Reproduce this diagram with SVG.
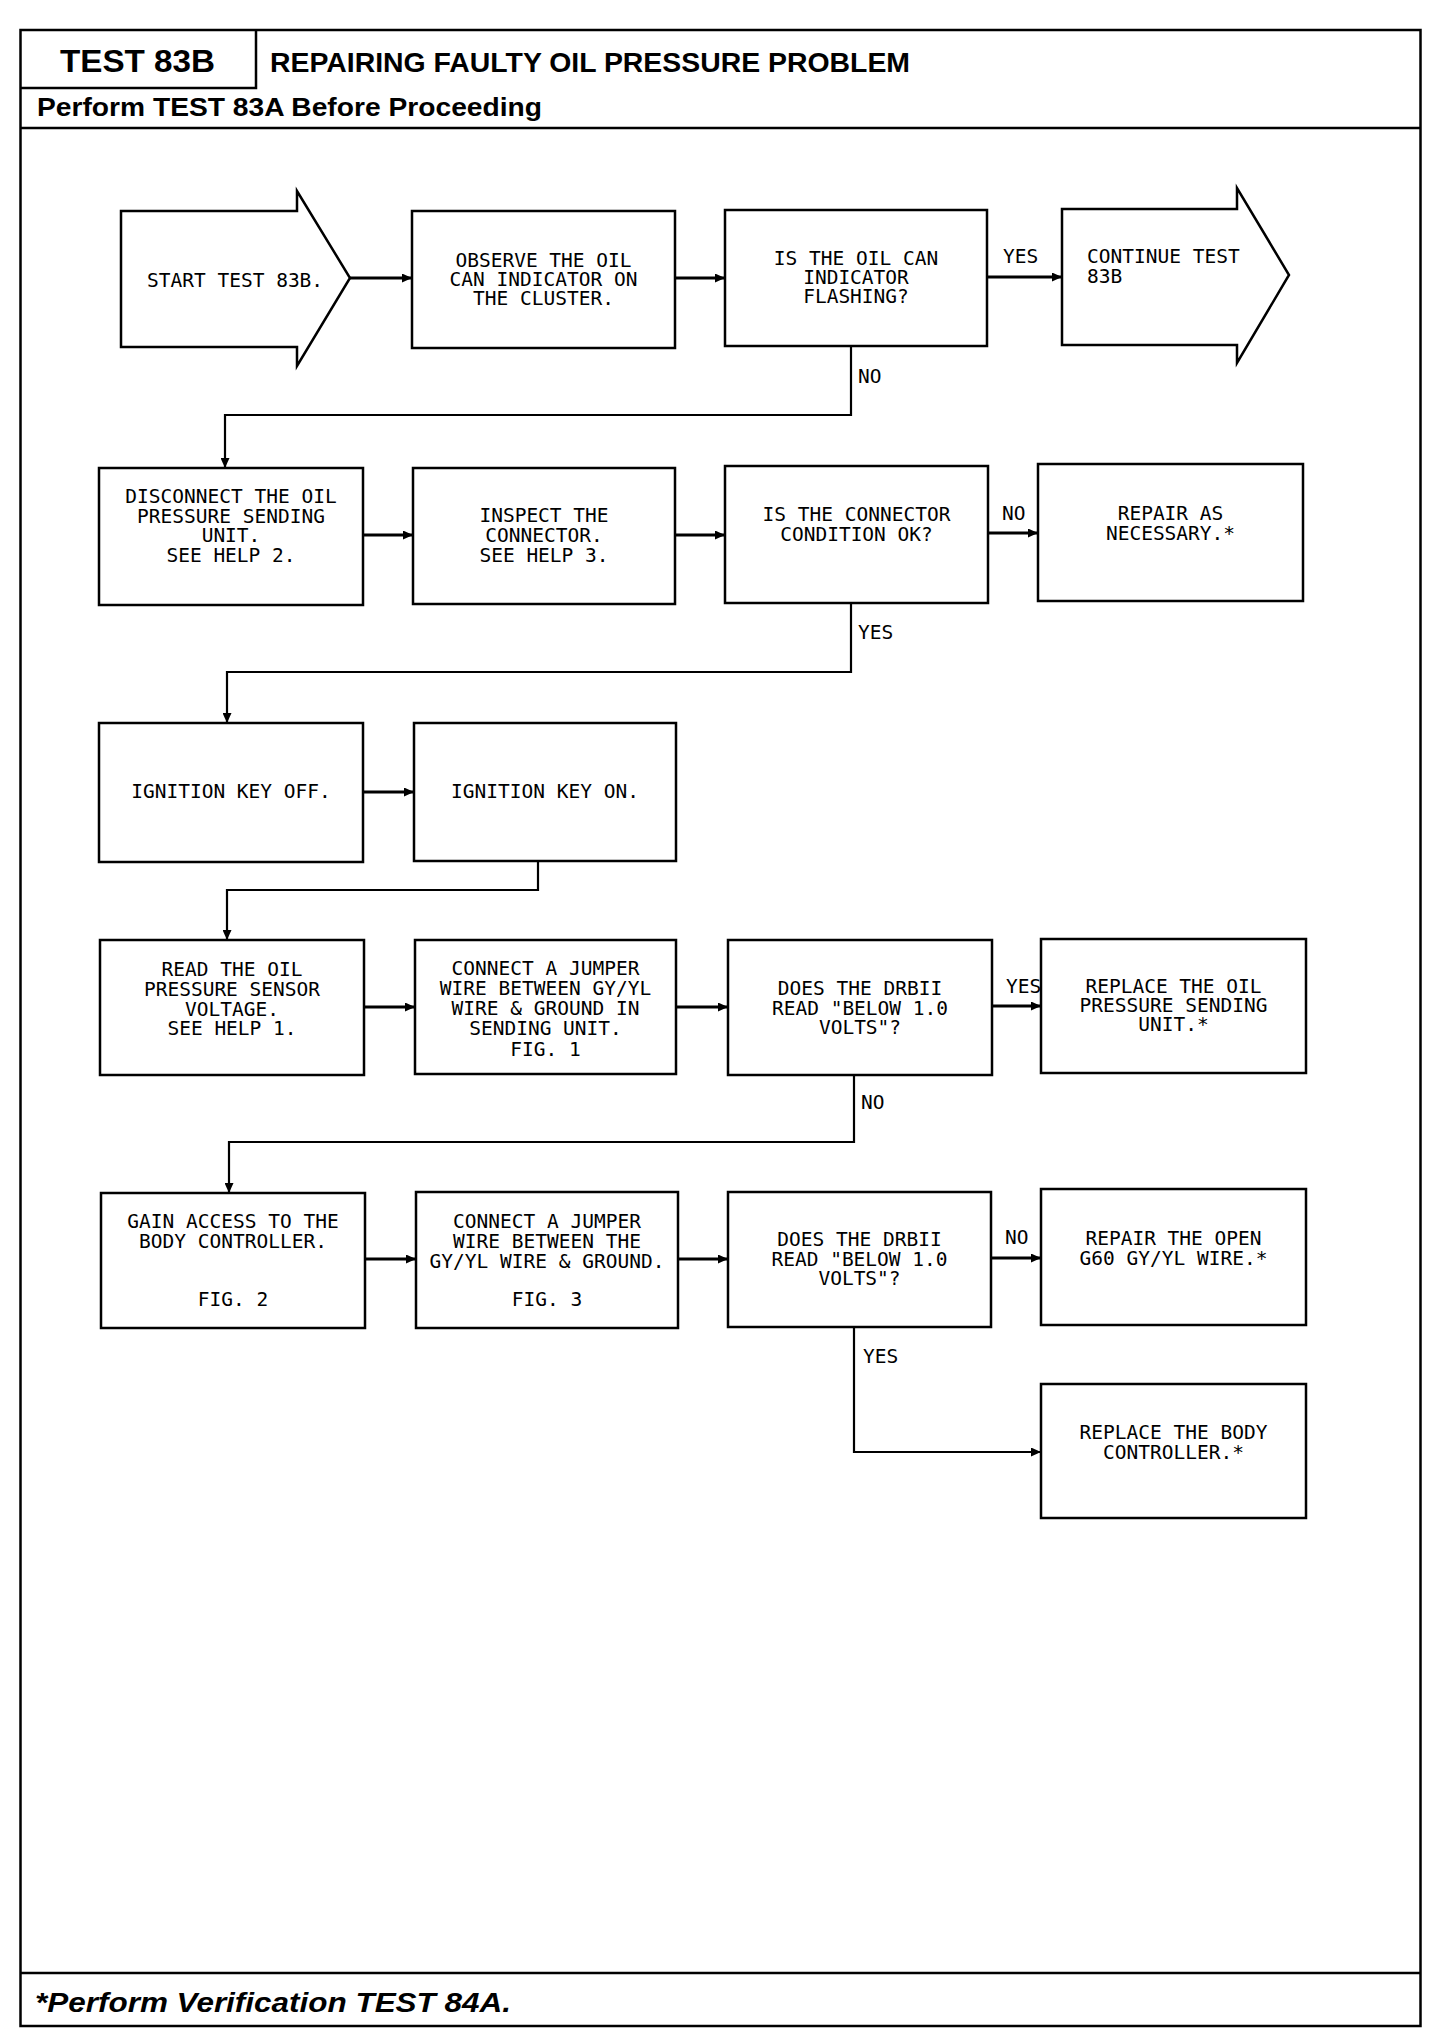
<svg xmlns="http://www.w3.org/2000/svg" width="1456" height="2040" viewBox="0 0 1456 2040">
<style>
.frame{fill:none;stroke:#000;stroke-width:2.5}
.box{fill:#fff;stroke:#000;stroke-width:2.5}
.conn{fill:none;stroke:#000;stroke-width:2.2}
.arr{fill:none;stroke:#000;stroke-width:3}
.t{font-family:"DejaVu Sans Mono","Liberation Mono",monospace;font-size:19.5px;fill:#000}
.c{text-anchor:middle}
.hb{font-family:"Liberation Sans",Arial,sans-serif;font-weight:bold;fill:#000}
</style>
<defs>
<marker id="ah" markerUnits="userSpaceOnUse" markerWidth="11" markerHeight="9" refX="10" refY="4.5" orient="auto">
<path d="M0,0 L10,4.5 L0,9 z" fill="#000"/>
</marker>
</defs>
<rect width="1456" height="2040" fill="#fff"/>
<g id="frame">
<rect class="frame" x="20.5" y="30" width="1400" height="1996"/>
<path class="frame" d="M256,30 V88 H20.5"/>
<line class="frame" x1="20.5" y1="128" x2="1420.5" y2="128"/>
<line class="frame" x1="20.5" y1="1973" x2="1420.5" y2="1973"/>
<text class="hb" x="60" y="72" font-size="31" textLength="155" lengthAdjust="spacingAndGlyphs">TEST 83B</text>
<text class="hb" x="270" y="72" font-size="27" textLength="640" lengthAdjust="spacingAndGlyphs">REPAIRING FAULTY OIL PRESSURE PROBLEM</text>
<text class="hb" x="37" y="116" font-size="26" textLength="505" lengthAdjust="spacingAndGlyphs">Perform TEST 83A Before Proceeding</text>
<text class="hb" x="35" y="2012" font-size="27" font-style="italic" textLength="476" lengthAdjust="spacingAndGlyphs">*Perform Verification TEST 84A.</text>
</g>
<g id="connectors">
<line class="arr" x1="350" y1="278" x2="412" y2="278" marker-end="url(#ah)"/>
<line class="arr" x1="675" y1="278" x2="725" y2="278" marker-end="url(#ah)"/>
<line class="arr" x1="987" y1="277" x2="1062" y2="277" marker-end="url(#ah)"/>
<polyline class="conn" points="851,346 851,415 225,415 225,468" marker-end="url(#ah)"/>
<line class="arr" x1="363" y1="535" x2="413" y2="535" marker-end="url(#ah)"/>
<line class="arr" x1="675" y1="535" x2="725" y2="535" marker-end="url(#ah)"/>
<line class="arr" x1="988" y1="533" x2="1038" y2="533" marker-end="url(#ah)"/>
<polyline class="conn" points="851,603 851,672 227,672 227,723" marker-end="url(#ah)"/>
<line class="arr" x1="363" y1="792" x2="414" y2="792" marker-end="url(#ah)"/>
<polyline class="conn" points="538,861 538,890 227,890 227,940" marker-end="url(#ah)"/>
<line class="arr" x1="364" y1="1007" x2="415" y2="1007" marker-end="url(#ah)"/>
<line class="arr" x1="676" y1="1007" x2="728" y2="1007" marker-end="url(#ah)"/>
<line class="arr" x1="992" y1="1006" x2="1041" y2="1006" marker-end="url(#ah)"/>
<polyline class="conn" points="854,1075 854,1142 229,1142 229,1193" marker-end="url(#ah)"/>
<line class="arr" x1="365" y1="1259" x2="416" y2="1259" marker-end="url(#ah)"/>
<line class="arr" x1="678" y1="1259" x2="728" y2="1259" marker-end="url(#ah)"/>
<line class="arr" x1="991" y1="1258" x2="1041" y2="1258" marker-end="url(#ah)"/>
<polyline class="conn" points="854,1327 854,1452 1041,1452" marker-end="url(#ah)"/>
<text class="t" x="1003" y="263">YES</text>
<text class="t" x="858" y="383">NO</text>
<text class="t" x="1002" y="520">NO</text>
<text class="t" x="858" y="639">YES</text>
<text class="t" x="1006" y="993">YES</text>
<text class="t" x="861" y="1109">NO</text>
<text class="t" x="1005" y="1244">NO</text>
<text class="t" x="863" y="1363">YES</text>
</g>
<g id="start">
<polygon class="box" points="121,211 297,211 297,191 350,278 297,366 297,347 121,347"/>
<text class="t" x="147" y="287">START TEST 83B.</text>
</g>
<g id="observe">
<rect class="box" x="412" y="211" width="263" height="137"/>
<text class="t c" x="543.5" y="267">OBSERVE THE OIL</text>
<text class="t c" x="543.5" y="286">CAN INDICATOR ON</text>
<text class="t c" x="543.5" y="305">THE CLUSTER.</text>
</g>
<g id="q-flashing">
<rect class="box" x="725" y="210" width="262" height="136"/>
<text class="t c" x="856" y="265">IS THE OIL CAN</text>
<text class="t c" x="856" y="284">INDICATOR</text>
<text class="t c" x="856" y="303">FLASHING?</text>
</g>
<g id="continue">
<polygon class="box" points="1062,209 1237,209 1237,188 1289,275 1237,363 1237,345 1062,345"/>
<text class="t" x="1087" y="263">CONTINUE TEST</text>
<text class="t" x="1087" y="283">83B</text>
</g>
<g id="disconnect">
<rect class="box" x="99" y="468" width="264" height="137"/>
<text class="t c" x="231" y="503">DISCONNECT THE OIL</text>
<text class="t c" x="231" y="523">PRESSURE SENDING</text>
<text class="t c" x="231" y="542">UNIT.</text>
<text class="t c" x="231" y="562">SEE HELP 2.</text>
</g>
<g id="inspect">
<rect class="box" x="413" y="468" width="262" height="136"/>
<text class="t c" x="544" y="522">INSPECT THE</text>
<text class="t c" x="544" y="542">CONNECTOR.</text>
<text class="t c" x="544" y="562">SEE HELP 3.</text>
</g>
<g id="q-connector">
<rect class="box" x="725" y="466" width="263" height="137"/>
<text class="t c" x="856.5" y="521">IS THE CONNECTOR</text>
<text class="t c" x="856.5" y="541">CONDITION OK?</text>
</g>
<g id="repair-as">
<rect class="box" x="1038" y="464" width="265" height="137"/>
<text class="t c" x="1170.5" y="520">REPAIR AS</text>
<text class="t c" x="1170.5" y="540">NECESSARY.*</text>
</g>
<g id="key-off">
<rect class="box" x="99" y="723" width="264" height="139"/>
<text class="t c" x="231" y="798">IGNITION KEY OFF.</text>
</g>
<g id="key-on">
<rect class="box" x="414" y="723" width="262" height="138"/>
<text class="t c" x="545" y="798">IGNITION KEY ON.</text>
</g>
<g id="read-voltage">
<rect class="box" x="100" y="940" width="264" height="135"/>
<text class="t c" x="232" y="976">READ THE OIL</text>
<text class="t c" x="232" y="996">PRESSURE SENSOR</text>
<text class="t c" x="232" y="1016">VOLTAGE.</text>
<text class="t c" x="232" y="1035">SEE HELP 1.</text>
</g>
<g id="jumper-1">
<rect class="box" x="415" y="940" width="261" height="134"/>
<text class="t c" x="545.5" y="975">CONNECT A JUMPER</text>
<text class="t c" x="545.5" y="995">WIRE BETWEEN GY/YL</text>
<text class="t c" x="545.5" y="1015">WIRE &amp; GROUND IN</text>
<text class="t c" x="545.5" y="1035">SENDING UNIT.</text>
<text class="t c" x="545.5" y="1056">FIG. 1</text>
</g>
<g id="q-below-1">
<rect class="box" x="728" y="940" width="264" height="135"/>
<text class="t c" x="860" y="995">DOES THE DRBII</text>
<text class="t c" x="860" y="1015">READ "BELOW 1.0</text>
<text class="t c" x="860" y="1034">VOLTS"?</text>
</g>
<g id="replace-sender">
<rect class="box" x="1041" y="939" width="265" height="134"/>
<text class="t c" x="1173.5" y="993">REPLACE THE OIL</text>
<text class="t c" x="1173.5" y="1012">PRESSURE SENDING</text>
<text class="t c" x="1173.5" y="1031">UNIT.*</text>
</g>
<g id="gain-access">
<rect class="box" x="101" y="1193" width="264" height="135"/>
<text class="t c" x="233" y="1228">GAIN ACCESS TO THE</text>
<text class="t c" x="233" y="1248">BODY CONTROLLER.</text>
<text class="t c" x="233" y="1306">FIG. 2</text>
</g>
<g id="jumper-2">
<rect class="box" x="416" y="1192" width="262" height="136"/>
<text class="t c" x="547" y="1228">CONNECT A JUMPER</text>
<text class="t c" x="547" y="1248">WIRE BETWEEN THE</text>
<text class="t c" x="547" y="1268">GY/YL WIRE &amp; GROUND.</text>
<text class="t c" x="547" y="1306">FIG. 3</text>
</g>
<g id="q-below-2">
<rect class="box" x="728" y="1192" width="263" height="135"/>
<text class="t c" x="859.5" y="1246">DOES THE DRBII</text>
<text class="t c" x="859.5" y="1266">READ "BELOW 1.0</text>
<text class="t c" x="859.5" y="1285">VOLTS"?</text>
</g>
<g id="repair-open">
<rect class="box" x="1041" y="1189" width="265" height="136"/>
<text class="t c" x="1173.5" y="1245">REPAIR THE OPEN</text>
<text class="t c" x="1173.5" y="1265">G60 GY/YL WIRE.*</text>
</g>
<g id="replace-body">
<rect class="box" x="1041" y="1384" width="265" height="134"/>
<text class="t c" x="1173.5" y="1439">REPLACE THE BODY</text>
<text class="t c" x="1173.5" y="1459">CONTROLLER.*</text>
</g>
</svg>
